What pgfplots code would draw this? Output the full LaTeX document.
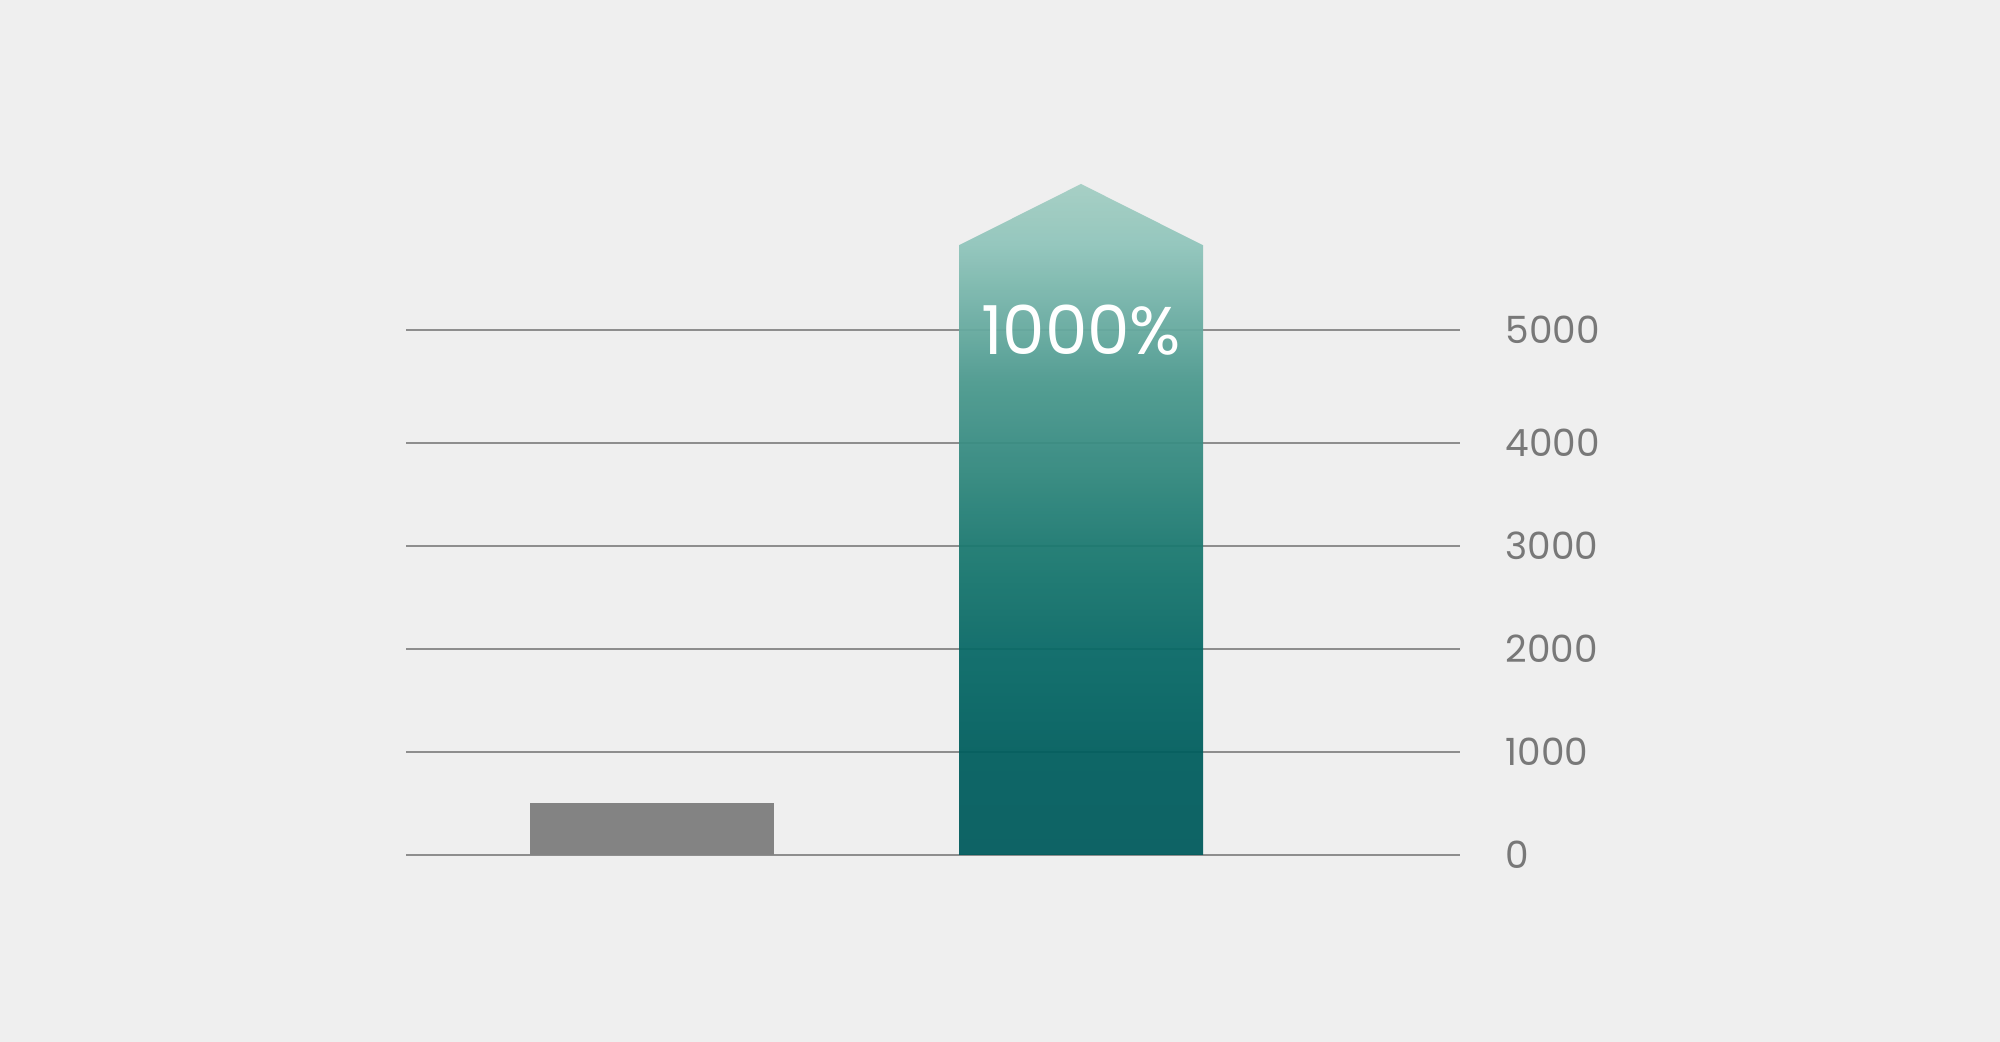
\documentclass[border=0pt]{standalone}
\usepackage{pgfplots}
\pgfplotsset{compat=1.18}
\usepackage{fontspec}
\setmainfont{Poppins}

\definecolor{bg}{HTML}{EFEFEF}
\definecolor{gridgray}{HTML}{8E8E8E}
\definecolor{ticktext}{HTML}{787878}
\definecolor{barhold}{HTML}{838383}
% teal ramp, bottom to top
\definecolor{tA}{RGB}{0,91,93}
\definecolor{tB}{RGB}{0,94,94}
\definecolor{tC}{RGB}{8,105,102}
\definecolor{tD}{RGB}{27,121,112}
\definecolor{tE}{RGB}{75,153,142}
\definecolor{tF}{RGB}{144,197,187}
\definecolor{tG}{RGB}{163,205,195}
\pgfdeclareverticalshading{tealfade}{100bp}{%
  color(0bp)=(tA); color(25bp)=(tA); color(32.6bp)=(tB); color(40.2bp)=(tC);
  color(48bp)=(tD); color(60.2bp)=(tE); color(70.5bp)=(tF); color(75bp)=(tG);
  color(100bp)=(tG)}

\begin{document}
\begin{tikzpicture}[x=1pt,y=1pt]
% 1 px of the reference = 0.4pt
\fill[bg] (0,0) rectangle (800,416.8);

\begin{axis}[
    at={(162.4pt,74.8pt)},
    anchor=origin,
    scale only axis,
    width=421.6pt,
    height=288.4pt,
    xmin=0.4266, xmax=2.8834,
    ymin=0, ymax=7000,
    axis line style={draw=none},
    xtick=\empty,
    ytick={0,1000,2000,3000,4000,5100},
    yticklabels={0,1000,2000,3000,4000,5000},
    yticklabel pos=right,
    major tick length=0pt,
    ymajorgrids,
    grid style={gridgray, line width=0.8pt},
    yticklabel style={anchor=west, inner sep=0pt, xshift=18pt,
        text=ticktext, font=\fontsize{15}{15}\selectfont},
    clip=false,
]

% before
\addplot[ybar, bar width=0.5688, bar shift=0pt, fill=barhold, draw=none]
    coordinates {(1,500)};

% after: arrow-topped bar
\addplot[draw=none, shading=tealfade, fill opacity=0.94]
    coordinates {(1.7156,0) (1.7156,5920) (2,6515) (2.2844,5920) (2.2844,0)} -- cycle;

\node[text=white, font=\fontsize{27}{27}\selectfont, inner sep=0pt]
    at (axis cs:2,5100) {1000\%};

\end{axis}
\end{tikzpicture}
\end{document}
